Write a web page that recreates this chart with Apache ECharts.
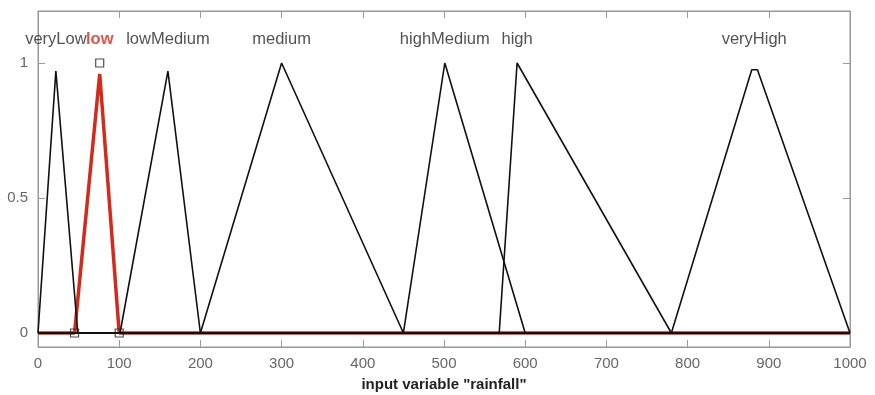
<!DOCTYPE html>
<html><head><meta charset="utf-8">
<script src="https://cdn.jsdelivr.net/npm/echarts@6/dist/echarts.min.js"></script>
<style>html,body{margin:0;padding:0;background:#fff}#c{width:875px;height:395px}</style>
</head><body><div id="c"></div>
<script>
const mfNames = ['veryLow','low','lowMedium','medium','highMedium','high','veryHigh'];
const veryLowX = [0, 22, 49, 1000];       const veryLowY = [0, 0.97, 0, 0];
const lowX = [0, 45, 76, 100, 1000];      const lowY = [0, 0, 0.96, 0, 0];
const lowMediumX = [0, 101, 160, 200, 1000]; const lowMediumY = [0, 0, 0.97, 0, 0];
const mediumX = [0, 200, 300, 450, 1000]; const mediumY = [0, 0, 1, 0, 0];
const highMediumX = [0, 450, 501, 600, 1000]; const highMediumY = [0, 0, 1, 0, 0];
const highX = [0, 568, 590, 780, 1000];   const highY = [0, 0, 1, 0, 0];
const veryHighX = [0, 780, 879, 886, 1000]; const veryHighY = [0, 0, 0.975, 0.975, 0];
const labelX = [22, 76, 160, 300, 501, 590, 882];
const lowParamX = [45, 76, 100];
const lowParamY = [0, 1, 0];
const xTicks = [0,100,200,300,400,500,600,700,800,900,1000];
const yTicks = [0, 0.5, 1];
const xTitle = 'input variable "rainfall"';

const mfX = [veryLowX, lowX, lowMediumX, mediumX, highMediumX, highX, veryHighX];
const mfY = [veryLowY, lowY, lowMediumY, mediumY, highMediumY, highY, veryHighY];
const selected = 1;
const LABEL_LEVEL = 1.089;
const FONT = 'Liberation Sans, Arial, sans-serif';

const series = [];
mfNames.forEach((n, i) => {
  const sel = i === selected;
  series.push({
    name: n, type: 'line', showSymbol: false, animation: false,
    data: mfX[i].map((x, k) => [x, mfY[i][k]]),
    lineStyle: { color: sel ? '#d42a1c' : '#111', width: sel ? 3.5 : 1.6 },
    z: sel ? 2 : 3
  });
});
series.push({
  type: 'scatter', animation: false, symbolSize: 0,
  data: labelX.map((x, i) => ({
    value: [x, LABEL_LEVEL],
    label: { show: true, position: 'inside', formatter: mfNames[i],
      color: i === selected ? '#d42a1c' : '#262626',
      fontWeight: i === selected ? 'bold' : 'normal',
      fontFamily: FONT, fontSize: 16.5 }
  })), z: 5
});
series.push({
  type: 'scatter', animation: false, symbol: 'rect', symbolSize: 8,
  data: lowParamX.map((x, i) => [x, lowParamY[i]]),
  itemStyle: { color: 'rgba(255,255,255,0)', borderColor: '#222', borderWidth: 1.2 }, z: 6
});

const chart = echarts.init(document.getElementById('c'), null, {renderer: 'canvas'});
const axisFont = { color: '#666', fontSize: 15, fontFamily: FONT };
chart.setOption({
  backgroundColor: '#fff',
  grid: { left: 38, right: 25, top: 11, bottom: 48, show: true, borderColor: '#999', borderWidth: 1,
          containLabel: false, outerBoundsMode: 'none' },
  xAxis: [
    { type: 'value', min: 0, max: 1000, interval: 100, position: 'bottom',
      name: xTitle, nameLocation: 'middle', nameGap: 30,
      nameTextStyle: { color: '#222', fontSize: 15, fontWeight: 'bold', fontFamily: FONT },
      axisLine: { show: true, onZero: false, lineStyle: { color: '#999' } },
      axisTick: { show: true, inside: true, length: 7, customValues: xTicks, lineStyle: { color: '#999' } },
      axisLabel: Object.assign({ margin: 9, customValues: xTicks, formatter: v => String(v) }, axisFont),
      splitLine: { show: false } },
    { type: 'value', min: 0, max: 1000, interval: 100, position: 'top',
      axisLine: { show: true, onZero: false, lineStyle: { color: '#999' } },
      axisTick: { show: true, inside: true, length: 7, lineStyle: { color: '#999' } },
      axisLabel: { show: false }, splitLine: { show: false } }
  ],
  yAxis: [
    { type: 'value', min: -0.0519, max: 1.1926, position: 'left',
      axisLine: { show: true, onZero: false, lineStyle: { color: '#999' } },
      axisTick: { show: true, inside: true, length: 7, customValues: yTicks, lineStyle: { color: '#999' } },
      axisLabel: Object.assign({ margin: 10, customValues: yTicks, formatter: v => String(v) }, axisFont),
      splitLine: { show: false } },
    { type: 'value', min: -0.0519, max: 1.1926, position: 'right',
      axisLine: { show: true, onZero: false, lineStyle: { color: '#999' } },
      axisTick: { show: true, inside: true, length: 7, customValues: yTicks, lineStyle: { color: '#999' } },
      axisLabel: { show: false }, splitLine: { show: false } }
  ],
  series: series
});
</script></body></html>
